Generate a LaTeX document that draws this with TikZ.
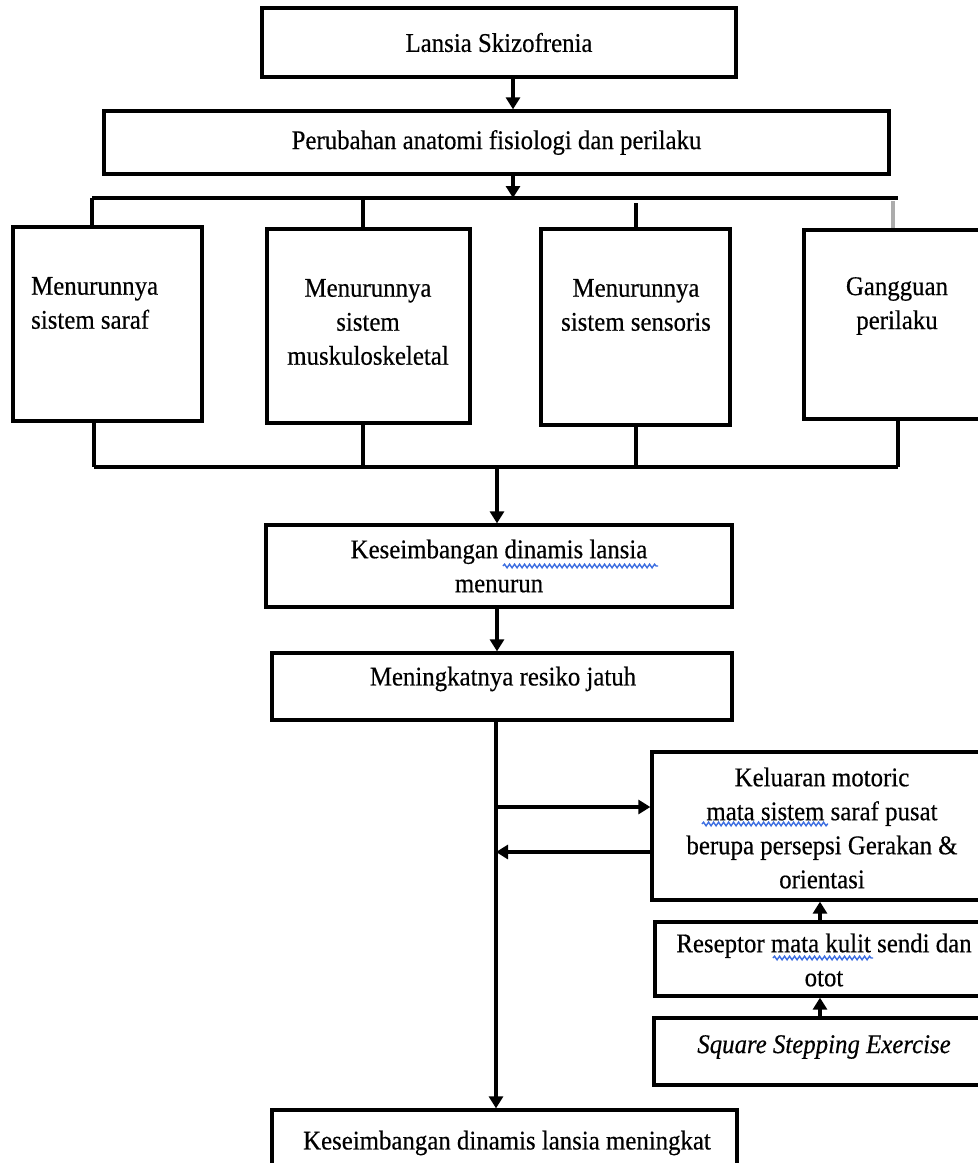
\documentclass[tikz,border=0pt]{standalone}
\usepackage{fontspec}
\setmainfont{Liberation Serif}[FakeStretch=0.92,FakeBold=0.4]
\usetikzlibrary{arrows.meta,decorations.pathmorphing,calc}
\definecolor{squigblue}{RGB}{60,110,225}
\tikzset{
  box/.style={draw, line width=3.3pt, inner sep=0pt},
  txt/.style={inner sep=0pt, align=center, font=\fontsize{27}{34}\selectfont},
  link/.style={line width=3.3pt},
  arr/.style={line width=3.3pt, -{Triangle[width=14pt,length=12pt]}},
  squig/.style={squigblue, line width=1.4pt, decorate,
    decoration={snake, amplitude=1.8pt, segment length=5pt}}
}
\begin{document}
\begin{tikzpicture}[x=1pt,y=-1pt]
\clip (0,0) rectangle (978,1163);
\fill[white] (0,0) rectangle (978,1163);

% main boxes
\node[box, minimum width=474pt, minimum height=69pt] (top) at (499,42.5) {};
\node[txt] (ttop) at (top.center) {Lansia Skizofrenia};
\node[box, minimum width=785pt, minimum height=63pt] (mid) at (496.5,142.5) {};
\node[txt] (tmid) at (mid.center) {Perubahan anatomi fisiologi dan perilaku};

% four decline boxes
\node[box, minimum width=189pt, minimum height=194pt] (A) at (107.5,324) {};
\node[box, minimum width=203pt, minimum height=194pt] (B) at (368.5,326) {};
\node[box, minimum width=189pt, minimum height=196pt] (C) at (635.5,327) {};
\node[box, minimum width=188pt, minimum height=189pt] (D) at (898,324.5) {};
\node[txt, align=left, anchor=west] (tA) at (31,303) {Menurunnya\\sistem saraf};
\node[txt] (tB) at (368,322) {Menurunnya\\sistem\\muskuloskeletal};
\node[txt] (tC) at (636,305) {Menurunnya\\sistem sensoris};
\node[txt] (tD) at (897,306) {Gangguan\\perilaku};

% balance / fall risk chain
\node[box, minimum width=466pt, minimum height=82pt] (E) at (499,566) {};
\node[txt] (tE) at (E.center) {Keseimbangan dinamis lansia\\menurun};
\node[box, minimum width=460pt, minimum height=67pt] (F) at (502,686.5) {};
\node[txt] (tF) at (503,679) {Meningkatnya resiko jatuh};
\node[box, minimum width=465pt, minimum height=80pt] (G) at (504.5,1150) {};
\node[txt] (tG) at (507,1143) {Keseimbangan dinamis lansia meningkat};

% right-hand column
\node[box, minimum width=340pt, minimum height=148pt] (H) at (822,826) {};
\node[txt] (tH) at (822,828) {Keluaran motoric\\mata sistem saraf pusat\\berupa persepsi Gerakan \&\\orientasi};
\node[box, minimum width=337pt, minimum height=74pt] (I) at (823.5,959) {};
\node[txt] (tI) at (824,960) {Reseptor mata kulit sendi dan\\otot};
\node[box, minimum width=338pt, minimum height=67pt] (S) at (823,1051.5) {};
\node[txt, font=\fontsize{27}{34}\selectfont\itshape] (tS) at (824,1047) {Square Stepping Exercise};

% helper coordinates for connector positions
\coordinate (xtop) at (513,0);
\coordinate (busT) at (0,198);
\coordinate (busB) at (0,467);
\coordinate (sa) at (92,0);
\coordinate (sb) at (363,0);
\coordinate (sc) at (636,0);
\coordinate (sd) at (893,0);
\coordinate (ba) at (94,0);
\coordinate (bd) at (898,0);
\coordinate (xmain) at (497,0);
\coordinate (trunk) at (496,0);
\coordinate (yin) at (0,807);
\coordinate (yout) at (0,852);
\coordinate (xr) at (820,0);

% top connectors
\draw[arr] (top.south -| xtop) -- (mid.north -| xtop);
\draw[arr] (mid.south -| xtop) -- (busT -| xtop);
\draw[link] (busT -| sa) -- (busT -| bd);
\draw[link] (busT -| sa) -- (A.north -| sa);
\draw[link] (busT -| sb) -- (B.north -| sb);
\draw[link] ($(busT -| sc)+(0,5)$) -- (C.north -| sc);
\draw[line width=3.3pt, gray!65] ($(busT -| sd)+(0,3)$) -- (D.north -| sd);

% bottom collector
\draw[link] (A.south -| ba) -- (busB -| ba);
\draw[link] (B.south -| sb) -- (busB -| sb);
\draw[link] (C.south -| sc) -- (busB -| sc);
\draw[link] (D.south -| bd) -- (busB -| bd);
\draw[link] (busB -| ba) -- (busB -| bd);
\draw[arr] (busB -| xmain) -- (E.north -| xmain);
\draw[arr] (E.south -| xmain) -- (F.north -| xmain);
\draw[arr] (F.south -| trunk) -- (G.north -| trunk);

% feedback loop with the right column
\draw[arr] (trunk |- yin) -- (H.west |- yin);
\draw[arr] (H.west |- yout) -- (trunk |- yout);
\draw[arr] (I.north -| xr) -- (H.south -| xr);
\draw[arr] (S.north -| xr) -- (I.south -| xr);

% spelling-check underlines
\draw[squig] (503,566) -- (658,566);
\draw[squig] (702,824) -- (828,824);
\draw[squig] (773,958) -- (873,958);
\end{tikzpicture}
\end{document}
